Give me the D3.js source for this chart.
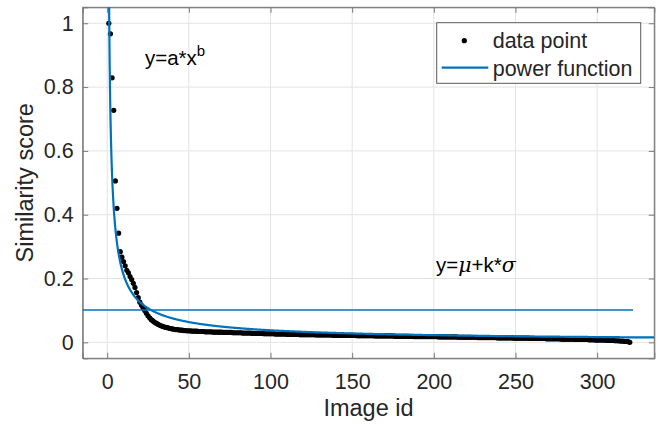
<!DOCTYPE html>
<html>
<head>
<meta charset="utf-8">
<script src="https://cdn.jsdelivr.net/npm/d3@7"></script>
<style>
  html, body { margin: 0; padding: 0; background: #fff; }
  svg { display: block; font-family: "Liberation Sans", Arial, Helvetica, sans-serif; }
</style>
</head>
<body>
<svg id="chart" width="663" height="428"></svg>
<script>
// ---- data ----
const imageIds = d3.range(1, 321);
const similarity = [
  1.000, 0.967, 0.829, 0.727, 0.506, 0.420, 0.342, 0.284, 0.267, 0.253,
  0.240, 0.226, 0.218, 0.206, 0.197, 0.185, 0.172, 0.156, 0.140, 0.126,
  0.116, 0.108, 0.100, 0.091, 0.083, 0.077, 0.071, 0.067, 0.063, 0.060,
  0.057, 0.054, 0.052, 0.050, 0.048, 0.047, 0.046, 0.044, 0.043, 0.042,
  0.041, 0.040, 0.040, 0.039, 0.038, 0.038, 0.037, 0.037, 0.036, 0.036,
  0.036, 0.035, 0.035, 0.035, 0.035, 0.034, 0.034, 0.034, 0.034, 0.033,
  0.033, 0.033, 0.033, 0.033, 0.032, 0.032, 0.032, 0.032, 0.032, 0.032,
  0.031, 0.031, 0.031, 0.031, 0.031, 0.031, 0.030, 0.030, 0.030, 0.030,
  0.030, 0.030, 0.029, 0.029, 0.029, 0.029, 0.029, 0.029, 0.028, 0.028,
  0.028, 0.028, 0.028, 0.028, 0.028, 0.027, 0.027, 0.027, 0.027, 0.027,
  0.027, 0.027, 0.026, 0.026, 0.026, 0.026, 0.026, 0.026, 0.026, 0.025,
  0.025, 0.025, 0.025, 0.025, 0.025, 0.025, 0.025, 0.024, 0.024, 0.024,
  0.024, 0.024, 0.024, 0.024, 0.024, 0.024, 0.024, 0.023, 0.023, 0.023,
  0.023, 0.023, 0.023, 0.023, 0.023, 0.023, 0.023, 0.022, 0.022, 0.022,
  0.022, 0.022, 0.022, 0.022, 0.022, 0.022, 0.022, 0.022, 0.022, 0.022,
  0.022, 0.022, 0.021, 0.021, 0.021, 0.021, 0.021, 0.021, 0.021, 0.021,
  0.021, 0.021, 0.021, 0.020, 0.020, 0.020, 0.020, 0.020, 0.020, 0.020,
  0.020, 0.020, 0.020, 0.020, 0.020, 0.019, 0.019, 0.019, 0.019, 0.019,
  0.019, 0.019, 0.019, 0.019, 0.019, 0.019, 0.019, 0.018, 0.018, 0.018,
  0.018, 0.018, 0.018, 0.018, 0.018, 0.018, 0.018, 0.018, 0.018, 0.018,
  0.018, 0.018, 0.017, 0.017, 0.017, 0.017, 0.017, 0.017, 0.017, 0.017,
  0.017, 0.017, 0.017, 0.017, 0.016, 0.016, 0.016, 0.016, 0.016, 0.016,
  0.016, 0.016, 0.016, 0.016, 0.016, 0.016, 0.015, 0.015, 0.015, 0.015,
  0.015, 0.015, 0.015, 0.015, 0.015, 0.015, 0.015, 0.015, 0.014, 0.014,
  0.014, 0.014, 0.014, 0.014, 0.014, 0.014, 0.014, 0.014, 0.013, 0.013,
  0.013, 0.013, 0.013, 0.013, 0.013, 0.013, 0.013, 0.013, 0.012, 0.012,
  0.012, 0.012, 0.012, 0.012, 0.012, 0.012, 0.012, 0.012, 0.011, 0.011,
  0.011, 0.011, 0.011, 0.011, 0.011, 0.011, 0.011, 0.010, 0.010, 0.010,
  0.010, 0.010, 0.010, 0.010, 0.010, 0.010, 0.009, 0.009, 0.009, 0.009,
  0.009, 0.009, 0.009, 0.009, 0.008, 0.008, 0.008, 0.008, 0.007, 0.007,
  0.007, 0.007, 0.007, 0.007, 0.007, 0.006, 0.006, 0.006, 0.006, 0.006,
  0.005, 0.005, 0.005, 0.004, 0.004, 0.004, 0.003, 0.003, 0.002, 0.000
];
// fitted power function y = a * x^b
const powerA = 1.19;
const powerB = -0.749;
// threshold y = mu + k*sigma
const thresholdValue = 0.101;
const thresholdEnd = 322;

const xTicks = [0, 50, 100, 150, 200, 250, 300];
const yTicks = [0, 0.2, 0.4, 0.6, 0.8, 1];
const xDomain = [-15, 335];
const yDomain = [-0.05, 1.05];
const xLabel = "Image id";
const yLabel = "Similarity score";
const legendLabels = ["data point", "power function"];

// ---- layout ----
const svg = d3.select("#chart");
const L = 82.7, R = 654.3, T = 7.3, B = 358.3;
const x = d3.scaleLinear().domain(xDomain).range([L, R]);
const y = d3.scaleLinear().domain(yDomain).range([B, T]);
const BLUE = "#0072BD";
const TXT = "#262626";
const AX = "#7a7a7a";

svg.append("defs").append("clipPath").attr("id", "clip")
  .append("rect").attr("x", L).attr("y", T).attr("width", R - L).attr("height", B - T);

// grid
const grid = svg.append("g");
grid.selectAll(".gx").data(xTicks).join("line")
  .attr("x1", d => x(d)).attr("x2", d => x(d)).attr("y1", T).attr("y2", B)
  .attr("stroke", "#e3e3e3").attr("stroke-width", 1);
grid.selectAll(".gy").data(yTicks).join("line")
  .attr("y1", d => y(d)).attr("y2", d => y(d)).attr("x1", L).attr("x2", R)
  .attr("stroke", "#e3e3e3").attr("stroke-width", 1);

// axes with D3 axis generators
const tk = 5.5;
const fmtY = d => d === 0 ? "0" : d3.format("~g")(d);
const xAxis = svg.append("g").attr("transform", `translate(0,${B})`)
  .call(d3.axisBottom(x).tickValues(xTicks).tickSize(-tk).tickPadding(15).tickFormat(d3.format("d")));
const xAxisTop = svg.append("g").attr("transform", `translate(0,${T})`)
  .call(d3.axisTop(x).tickValues(xTicks).tickSize(-tk).tickFormat(""));
const yAxis = svg.append("g").attr("transform", `translate(${L},0)`)
  .call(d3.axisLeft(y).tickValues(yTicks).tickSize(-tk).tickPadding(9).tickFormat(fmtY));
const yAxisRight = svg.append("g").attr("transform", `translate(${R},0)`)
  .call(d3.axisRight(y).tickValues(yTicks).tickSize(-tk).tickFormat(""));
[xAxis, xAxisTop, yAxis, yAxisRight].forEach(g => {
  g.select(".domain").attr("stroke", AX).attr("stroke-width", 1);
  g.selectAll(".tick line").attr("stroke", AX).attr("stroke-width", 1);
  g.selectAll("text").attr("fill", TXT).attr("font-size", 21.5)
    .attr("font-family", "Liberation Sans, Arial, sans-serif");
});
svg.append("rect").attr("x", L).attr("y", T).attr("width", R - L).attr("height", B - T)
  .attr("fill", "none").attr("stroke", AX).attr("stroke-width", 1);

// axis labels
svg.append("text").attr("x", (L + R) / 2).attr("y", 416).attr("text-anchor", "middle")
  .attr("font-size", 23.5).attr("fill", TXT).text(xLabel);
svg.append("text").attr("transform", `translate(33,${(T + B) / 2}) rotate(-90)`)
  .attr("text-anchor", "middle").attr("font-size", 23.5).attr("fill", TXT).text(yLabel);

const plot = svg.append("g").attr("clip-path", "url(#clip)");

// data points
plot.selectAll("circle.pt").data(imageIds.map((id, i) => [id, similarity[i]])).join("circle")
  .attr("class", "pt").attr("cx", d => x(d[0])).attr("cy", d => y(d[1])).attr("r", 2.6)
  .attr("fill", "#000");

// power function curve
const curveX = d3.range(1, 335.01, 0.25);
plot.append("path")
  .datum(curveX.map(v => [v, powerA * Math.pow(v, powerB)]))
  .attr("d", d3.line().x(d => x(d[0])).y(d => y(d[1])))
  .attr("fill", "none").attr("stroke", BLUE).attr("stroke-width", 2.2);

// threshold line
plot.append("line")
  .attr("x1", x(xDomain[0])).attr("x2", x(thresholdEnd))
  .attr("y1", y(thresholdValue)).attr("y2", y(thresholdValue))
  .attr("stroke", BLUE).attr("stroke-width", 1.5);

// annotations
const ann1 = svg.append("text").attr("x", 145).attr("y", 65).attr("font-size", 20.5).attr("fill", "#000");
ann1.append("tspan").text("y=a*x");
ann1.append("tspan").attr("dy", -9).attr("font-size", 15).text("b");

const ann2 = svg.append("text").attr("x", 436).attr("y", 272).attr("font-size", 20.5).attr("fill", "#000");
ann2.append("tspan").text("y=");
ann2.append("tspan").attr("font-family", "DejaVu Serif, serif").attr("font-style", "italic").text("\u03BC");
ann2.append("tspan").text("+k*");
ann2.append("tspan").attr("font-family", "DejaVu Serif, serif").attr("font-style", "italic").text("\u03C3");

// legend
const lg = svg.append("g");
lg.append("rect").attr("x", 436.7).attr("y", 22.7).attr("width", 204).attr("height", 60.6)
  .attr("fill", "#fff").attr("stroke", "#5a5a5a").attr("stroke-width", 1);
lg.append("circle").attr("cx", 464.3).attr("cy", 40.7).attr("r", 2.6).attr("fill", "#000");
lg.append("line").attr("x1", 441.7).attr("x2", 488.3).attr("y1", 67.7).attr("y2", 67.7)
  .attr("stroke", BLUE).attr("stroke-width", 2.2);
lg.selectAll("text.lt").data(legendLabels).join("text").attr("class", "lt")
  .attr("x", 492.7).attr("y", (d, i) => i === 0 ? 48 : 75.5)
  .attr("font-size", 21.5).attr("fill", TXT).text(d => d);
</script>
</body>
</html>
